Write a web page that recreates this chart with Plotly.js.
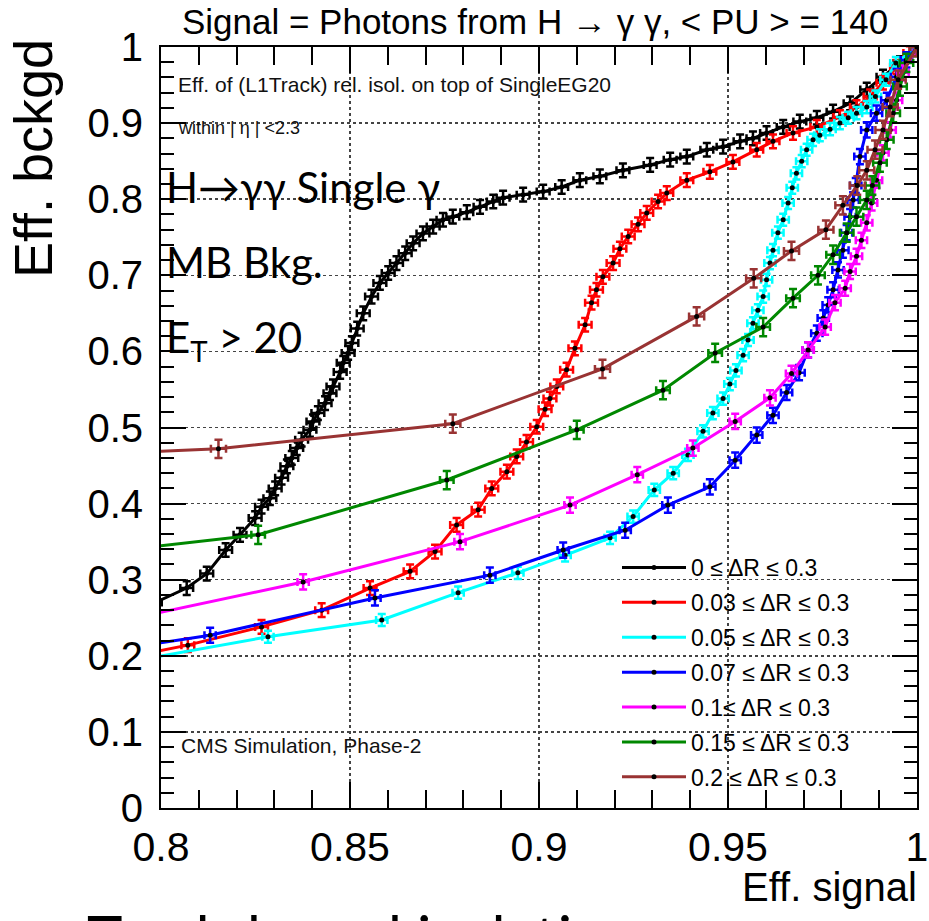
<!DOCTYPE html>
<html>
<head>
<meta charset="utf-8">
<script src="https://cdn.plot.ly/plotly-3.0.1.min.js"></script>
<style>html,body{margin:0;padding:0;background:#fff;}#chart{width:929px;height:921px;}</style>
</head>
<body>
<div id="chart"></div>
<script>
// ---- data ----
const names = ["0 ≤ ΔR ≤ 0.3", "0.03 ≤ ΔR ≤ 0.3", "0.05 ≤ ΔR ≤ 0.3", "0.07 ≤ ΔR ≤ 0.3", "0.1≤ ΔR ≤ 0.3", "0.15 ≤ ΔR ≤ 0.3", "0.2 ≤ ΔR ≤ 0.3"];
const colors = ["#000000", "#ff0000", "#00ffff", "#0000ff", "#ff00ff", "#008800", "#993333"];

const x0 = [0.7985,0.8068,0.8121,0.8171,0.8209,0.8249,0.8266,0.8288,0.8302,0.8319,0.8333,0.8346,0.8359,0.8372,0.8394,0.8402,0.8415,0.8434,0.8447,0.8455,0.8474,0.8482,0.8495,0.8505,0.8519,0.8535,0.8557,0.8579,0.8601,0.8623,0.8646,0.8667,0.8693,0.8720,0.8746,0.8772,0.8809,0.8844,0.8879,0.8905,0.8958,0.9011,0.9060,0.9108,0.9161,0.9222,0.9294,0.9347,0.9391,0.9444,0.9487,0.9532,0.9566,0.9602,0.9646,0.9690,0.9735,0.9778,0.9823,0.9867,0.9910,0.9955,1.0];
const y0 = [0.270,0.289,0.308,0.339,0.359,0.381,0.396,0.407,0.420,0.434,0.449,0.460,0.473,0.484,0.497,0.508,0.519,0.532,0.545,0.554,0.573,0.585,0.598,0.611,0.630,0.650,0.672,0.690,0.703,0.716,0.729,0.742,0.755,0.764,0.773,0.777,0.783,0.790,0.797,0.802,0.806,0.810,0.816,0.825,0.830,0.838,0.845,0.852,0.856,0.865,0.869,0.876,0.880,0.887,0.895,0.902,0.907,0.915,0.926,0.944,0.961,0.979,1.0];

const x1 = [0.7970,0.8071,0.8266,0.8425,0.8553,0.8659,0.8725,0.8782,0.8839,0.8875,0.8915,0.8941,0.8967,0.8994,0.9016,0.9029,0.9047,0.9073,0.9095,0.9122,0.9139,0.9152,0.9169,0.9196,0.9214,0.9236,0.9262,0.9285,0.9315,0.9338,0.9391,0.9452,0.9513,0.9576,0.9619,0.9672,0.9735,0.9796,0.9840,0.9876,0.9910,0.9946,0.9981,1.0];
const y1 = [0.204,0.214,0.238,0.260,0.289,0.311,0.337,0.372,0.392,0.420,0.442,0.462,0.481,0.501,0.524,0.538,0.554,0.576,0.604,0.635,0.664,0.681,0.698,0.716,0.735,0.751,0.767,0.782,0.797,0.808,0.825,0.836,0.849,0.865,0.876,0.887,0.895,0.908,0.921,0.935,0.953,0.974,0.992,1.0];

const x2 = [0.7970,0.8283,0.8584,0.8786,0.8944,0.9069,0.9188,0.9249,0.9305,0.9355,0.9394,0.9434,0.9460,0.9487,0.9505,0.9521,0.9540,0.9553,0.9566,0.9579,0.9593,0.9602,0.9611,0.9619,0.9632,0.9646,0.9659,0.9670,0.9681,0.9695,0.9708,0.9725,0.9743,0.9770,0.9796,0.9818,0.9840,0.9867,0.9890,0.9918,0.9944,1.0];
const y2 = [0.197,0.225,0.247,0.283,0.309,0.332,0.355,0.383,0.418,0.440,0.464,0.495,0.519,0.538,0.557,0.575,0.595,0.615,0.637,0.654,0.672,0.694,0.716,0.733,0.756,0.773,0.795,0.815,0.834,0.850,0.865,0.878,0.884,0.892,0.900,0.907,0.913,0.921,0.935,0.957,0.979,1.0];

const x3 = [0.7970,0.8130,0.8566,0.8870,0.9064,0.9228,0.9341,0.9452,0.9519,0.9576,0.9619,0.9655,0.9688,0.9712,0.9735,0.9752,0.9765,0.9778,0.9791,0.9804,0.9814,0.9823,0.9831,0.9838,0.9849,0.9867,0.9893,0.9920,0.9946,0.9972,1.0];
const y3 = [0.215,0.227,0.276,0.306,0.339,0.365,0.398,0.422,0.457,0.490,0.516,0.546,0.572,0.602,0.624,0.644,0.661,0.681,0.707,0.733,0.756,0.777,0.799,0.818,0.856,0.891,0.913,0.930,0.961,0.983,1.0];

const x4 = [0.7970,0.8376,0.8791,0.9082,0.9260,0.9407,0.9519,0.9611,0.9668,0.9712,0.9757,0.9783,0.9810,0.9823,0.9840,0.9853,0.9867,0.9880,0.9893,0.9910,0.9929,0.9946,0.9963,1.0];
const y4 = [0.254,0.297,0.350,0.398,0.438,0.473,0.508,0.539,0.571,0.602,0.632,0.664,0.683,0.705,0.725,0.746,0.769,0.795,0.825,0.861,0.891,0.930,0.966,1.0];

const x5 = [0.7970,0.8257,0.8756,0.9100,0.9328,0.9466,0.9593,0.9672,0.9738,0.9778,0.9814,0.9840,0.9867,0.9882,0.9902,0.9920,0.9937,0.9955,0.9972,1.0];
const y5 = [0.343,0.359,0.431,0.497,0.549,0.598,0.632,0.670,0.700,0.727,0.756,0.777,0.799,0.818,0.848,0.878,0.913,0.948,0.979,1.0];

const x6 = [0.7970,0.8152,0.8772,0.9168,0.9417,0.9568,0.9668,0.9759,0.9804,0.9842,0.9867,0.9889,0.9910,0.9929,0.9950,1.0];
const y6 = [0.468,0.472,0.505,0.577,0.646,0.696,0.732,0.760,0.792,0.818,0.838,0.865,0.891,0.921,0.957,1.0];

const errX = [0.0017, 0.0017, 0.0015, 0.0015, 0.0015, 0.0018, 0.0020];
const errY = [0.009, 0.009, 0.008, 0.010, 0.010, 0.012, 0.012];

const xTicks = [0.8, 0.85, 0.9, 0.95, 1];
const xTickText = ["0.8", "0.85", "0.9", "0.95", "1"];
const yTicks = [0, 0.1, 0.2, 0.3, 0.4, 0.5, 0.6, 0.7, 0.8, 0.9, 1];
const yTickText = ["0", "0.1", "0.2", "0.3", "0.4", "0.5", "0.6", "0.7", "0.8", "0.9", "1"];

// ---- build ----
const xs = [x0, x1, x2, x3, x4, x5, x6];
const ys = [y0, y1, y2, y3, y4, y5, y6];
const traces = xs.map((xx, i) => ({
  type: 'scatter', mode: 'lines+markers', x: xx, y: ys[i], name: names[i],
  legendgroup: 'g' + i,
  line: {color: colors[i], width: 3},
  marker: {color: '#000', size: 5},
  error_x: {type: 'constant', value: errX[i], color: colors[i], thickness: 2.5, width: 4},
  error_y: {type: 'constant', value: errY[i], color: colors[i], thickness: 2.5, width: 4},
  cliponaxis: true
}));

const RF = 'Liberation Sans, Arial, sans-serif';
const SF = 'Lato, Noto Sans, sans-serif';
function px2x(p) { return (p - 161) / 756; }
function px2y(p) { return (808 - p) / 761; }

const layout = {
  width: 929, height: 921,
  margin: {l: 161, r: 12, t: 47, b: 113},
  paper_bgcolor: '#fff', plot_bgcolor: '#fff',
  showlegend: true,
  title: {text: 'Signal = Photons from H → γ γ, &lt; PU &gt; = 140', font: {family: RF, size: 35, color: '#000'},
          x: px2x(535), xref: 'paper', xanchor: 'center', y: 1 - 22 / 921, yref: 'container', yanchor: 'middle'},
  xaxis: {range: [0.8, 1], tickmode: 'array', tickvals: xTicks, ticktext: xTickText,
    ticks: 'inside', ticklen: 26, tickwidth: 2, tickcolor: '#000', mirror: 'allticks',
    showline: true, linewidth: 2, linecolor: '#000',
    showgrid: true, griddash: 'dot', gridcolor: '#444', gridwidth: 1.5,
    zeroline: false, ticklabelstandoff: 2, ticklabeloverflow: 'allow',
    minor: {dtick: 0.01, tick0: 0.8, ticks: 'inside', ticklen: 18, tickwidth: 2, tickcolor: '#000', showgrid: false},
    tickfont: {family: RF, size: 41, color: '#000'}},
  yaxis: {range: [0, 1], tickmode: 'array', tickvals: yTicks, ticktext: yTickText,
    ticks: 'inside', ticklen: 25, tickwidth: 2, tickcolor: '#000', mirror: 'allticks',
    showline: true, linewidth: 2, linecolor: '#000',
    showgrid: true, griddash: 'dot', gridcolor: '#444', gridwidth: 1.5,
    zeroline: false, ticklabelstandoff: 8, ticklabeloverflow: 'allow',
    minor: {dtick: 0.02, tick0: 0, ticks: 'inside', ticklen: 13, tickwidth: 2, tickcolor: '#000', showgrid: false},
    tickfont: {family: RF, size: 40, color: '#000'}},
  legend: {x: px2x(617), xanchor: 'left', y: px2y(546), yanchor: 'top', bgcolor: 'rgba(0,0,0,0)',
    font: {family: RF, size: 23, color: '#000'}, tracegroupgap: 2, traceorder: 'grouped', itemwidth: 64},
  annotations: [
    {text: 'Eff. of (L1Track) rel. isol. on top of SingleEG20', xref: 'paper', yref: 'paper', x: px2x(176), y: px2y(85), xanchor: 'left', yanchor: 'middle', showarrow: false, font: {family: RF, size: 21, color: '#111'}},
    {text: 'within | η | &lt;2.3', xref: 'paper', yref: 'paper', x: px2x(176), y: px2y(128), xanchor: 'left', yanchor: 'middle', showarrow: false, font: {family: RF, size: 18, color: '#111'}},
    {text: 'H→γγ Single γ', xref: 'paper', yref: 'paper', x: px2x(164), y: px2y(187), xanchor: 'left', yanchor: 'middle', showarrow: false, font: {family: SF, size: 42, color: '#000'}},
    {text: 'MB Bkg.', xref: 'paper', yref: 'paper', x: px2x(164), y: px2y(262), xanchor: 'left', yanchor: 'middle', showarrow: false, font: {family: SF, size: 42, color: '#000'}},
    {text: 'E<sub>T</sub> &gt; 20', xref: 'paper', yref: 'paper', x: px2x(164), y: px2y(340), xanchor: 'left', yanchor: 'middle', showarrow: false, font: {family: SF, size: 42, color: '#000'}},
    {text: 'CMS Simulation, Phase-2', xref: 'paper', yref: 'paper', x: px2x(179), y: px2y(745), xanchor: 'left', yanchor: 'middle', showarrow: false, font: {family: RF, size: 21, color: '#111'}},
    {text: 'Eff. bckgd', xref: 'paper', yref: 'paper', x: px2x(33), y: px2y(159), xanchor: 'center', yanchor: 'middle', textangle: -90, showarrow: false, font: {family: RF, size: 54, color: '#000'}},
    {text: 'Track-based isolation', xref: 'paper', yref: 'paper', x: px2x(85), y: px2y(936), xanchor: 'left', yanchor: 'middle', showarrow: false, font: {family: SF, size: 60, color: '#000'}},
    {text: 'Eff. signal', xref: 'paper', yref: 'paper', x: px2x(919), y: px2y(887), xanchor: 'right', yanchor: 'middle', showarrow: false, bgcolor: '#fff', font: {family: RF, size: 40, color: '#000'}}
  ]
};

Plotly.newPlot('chart', traces, layout, {displayModeBar: false, staticPlot: true});
</script>
</body>
</html>
